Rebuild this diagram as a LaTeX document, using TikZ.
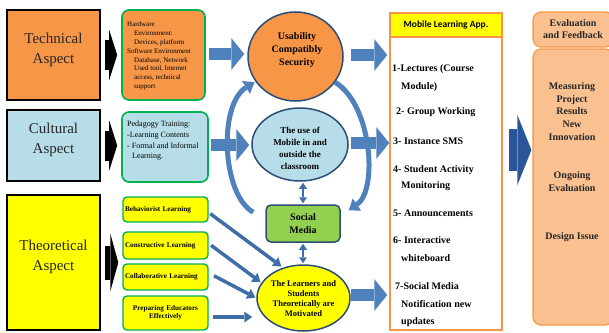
\documentclass[tikz,border=0pt]{standalone}
\usepackage{fontspec}
\setmainfont{Liberation Serif}
\newfontfamily\calib{Carlito}
\usetikzlibrary{arrows.meta,calc,shapes.geometric}
\definecolor{orng}{HTML}{F79646}
\definecolor{lblue}{HTML}{B7DEE8}
\definecolor{ylw}{HTML}{FFFF00}
\definecolor{grn}{HTML}{00B050}
\definecolor{smgrn}{HTML}{92D050}
\definecolor{dkblue}{HTML}{2C4D75}
\definecolor{arrblue}{HTML}{4F81BD}
\definecolor{thinblue}{HTML}{3F6DA8}
\definecolor{bigblue}{HTML}{2A5699}
\definecolor{lorng}{HTML}{FAC090}
\begin{document}
\begin{tikzpicture}[x=1pt,y=-1pt,
  bigbox/.style={draw=black, line width=1.6pt, minimum width=93pt, inner sep=0},
  bigtxt/.style={font=\fontsize{15}{20}\selectfont, align=center, text=black!85, inner sep=0},
  gbox/.style={rounded corners=7pt, draw=grn, line width=1.6pt, inner sep=0},
  ybox/.style={rounded corners=4pt, draw=grn, line width=1.4pt, fill=ylw, minimum width=85pt,
     font=\bfseries\fontsize{7.2}{8}\selectfont, inner xsep=2pt},
  circ/.style={ellipse, draw=dkblue, line width=1.5pt, inner sep=0},
  btxt/.style={font=\bfseries\fontsize{10}{13}\selectfont, align=center, inner sep=0},
  itm/.style={anchor=west, inner sep=0, font=\bfseries\fontsize{10}{12}\selectfont, text height=7pt, text depth=2pt},
  rtxt/.style={font=\bfseries\fontsize{10}{12.75}\selectfont, align=center, inner sep=0, text=black!85},
  barrow/.style={draw=arrblue, line width=12pt, -{Triangle[length=13pt,width=32pt,line width=0pt]}},
  karrow/.style={draw=black, line width=30pt, -{Triangle[length=8pt,width=50pt,line width=0pt]}, shorten <=4pt, shorten >=4pt},
  tarrow/.style={draw=thinblue, line width=3.5pt, -{Triangle[length=8pt,width=11pt,line width=0pt]}},
  darrow/.style={draw=thinblue, line width=2.5pt, {Triangle[length=6pt,width=8pt,line width=0pt]}-{Triangle[length=6pt,width=8pt,line width=0pt]}},
  carrow/.style={draw=arrblue, line width=5pt, -{Triangle[length=10pt,width=15pt,line width=0pt]}}
]
\useasboundingbox (0,0) rectangle (609,332);

% left column
\node[bigbox, fill=orng, minimum height=90pt] (tech) at (53.5,55) {};
\node[bigtxt] (techT) at (53.5,50) {Technical\\Aspect};
\node[bigbox, fill=lblue, minimum height=71pt] (cult) at (53.5,145.5) {};
\node[bigtxt] (cultT) at (53.5,139.5) {Cultural\\Aspect};
\node[bigbox, fill=ylw, minimum height=135pt] (theo) at (53.5,262.5) {};
\node[bigtxt] (theoT) at (53.5,257) {Theoretical\\Aspect};

% second column
\node[gbox, fill=orng, minimum width=83pt, minimum height=90pt] (hw) at (163.5,55) {};
\node[anchor=west, align=left, inner sep=0, font=\fontsize{7}{8.8}\selectfont] (hwT) at (127,56)
 {Hardware\\\hspace*{7pt}Environment:\\\hspace*{7pt}Devices, platform\\Software Environment\\\hspace*{7pt}Database, Network\\\hspace*{7pt}Used tool, Internet\\\hspace*{7pt}access, technical\\\hspace*{7pt}support};
\node[gbox, fill=lblue, minimum width=86pt, minimum height=70pt] (ped) at (165,147) {};
\node[anchor=west, align=left, inner sep=0, font=\fontsize{8}{10.7}\selectfont] (pedT) at (127,141)
 {Pedagogy Training:\\-Learning Contents\\- Formal and Informal\\\hspace*{5pt}Learning.};
\node[ybox, minimum height=25pt, text width=81pt, align=left] (beh) at (165.5,209.5) {Behaviorist Learning};
\node[ybox, minimum height=27pt, text width=81pt, align=left] (cons) at (165.5,245.5) {Constructive Learning};
\node[ybox, minimum height=26pt, text width=81pt, align=left] (coll) at (165.5,277) {Collaborative Learning};
\node[ybox, minimum height=34pt, text width=81pt, align=center] (prep) at (165.5,313) {Preparing Educators\\Effectively};

% middle column
\node[circ, fill=orng, minimum width=95pt, minimum height=89pt] (usa) at (295.5,56.5) {};
\node[btxt] (usaT) at (297,50) {Usability\\Compatibly\\Security};
\node[circ, fill=lblue, minimum width=96pt, minimum height=73pt] (ell) at (300,144.5) {};
\node[btxt, font=\bfseries\fontsize{9}{12}\selectfont] (ellT) at (300,148) {The use of\\Mobile in and\\outside the\\classroom};
\node[draw=dkblue, line width=1.5pt, fill=smgrn, rounded corners=5pt, minimum width=74pt, minimum height=37pt,
  btxt] (soc) at (303,223.5) {Social\\Media};
\node[circ, fill=ylw, minimum width=93pt, minimum height=66pt] (yel) at (303.5,298) {};
\node[btxt, font=\bfseries\fontsize{8.5}{10}\selectfont] (yelT) at (303.5,298.5) {The Learners and\\Students\\Theoretically are\\Motivated};

% app column
\node[draw=orng, line width=1.5pt, fill=white, minimum width=112pt, minimum height=317pt, inner sep=0] (app) at (446,171.5) {};
\node[draw=orng, line width=1.5pt, fill=ylw, minimum width=112pt, minimum height=24pt, inner sep=0,
  font=\calib\bfseries\fontsize{9.5}{11}\selectfont] (apph) at (446,25) {Mobile Learning App.};
\node[itm] (i1a) at (392,69) {1-Lectures (Course};
\node[itm] (i1b) at (401,87) {Module)};
\node[itm] (i2) at (396,112) {2- Group Working};
\node[itm] (i3) at (393,142) {3- Instance SMS};
\node[itm] (i4a) at (393,170) {4- Student Activity};
\node[itm] (i4b) at (401,186) {Monitoring};
\node[itm] (i5) at (393,214) {5- Announcements};
\node[itm] (i6a) at (393,241) {6- Interactive};
\node[itm] (i6b) at (401,259) {whiteboard};
\node[itm] (i7a) at (395,287) {7-Social Media};
\node[itm] (i7b) at (401,305) {Notification new};
\node[itm] (i7c) at (401,322) {updates};

% right column
\node[draw=orng, line width=1.2pt, fill=lorng, rounded corners=8pt, minimum width=80pt, minimum height=35pt, rtxt,
  font=\bfseries\fontsize{10}{12}\selectfont] (eval) at (573,29.5) {Evaluation\\and Feedback};
\node[draw=orng, line width=1.2pt, fill=lorng, rounded corners=8pt, minimum width=80pt, minimum height=276pt, inner sep=0] (big) at (573,187) {};
\node[rtxt] (m1) at (572,111.5) {Measuring\\Project\\Results\\New\\Innovation};
\node[rtxt, font=\bfseries\fontsize{10}{13}\selectfont] (m2) at (572,181.5) {Ongoing\\Evaluation};
\node[rtxt] (m3) at (572,237) {Design Issue};

% black arrows
\draw[karrow] (tech.east) -- (tech.east -| hw.west);
\draw[karrow] (cult.east) -- (cult.east -| ped.west);
\draw[karrow, line width=34pt, -{Triangle[length=8pt,width=58pt,line width=0pt]}] (theo.east) -- (theo.east -| beh.west);

% blue block arrows
\draw[barrow, shorten <=3pt, shorten >=3pt] ([yshift=1pt]hw.east) -- ([yshift=1pt]hw.east -| usa.west);
\draw[barrow, shorten <=7pt, shorten >=2pt] ([yshift=1.5pt]usa.east) -- ([yshift=1.5pt]usa.east -| app.west);
\draw[barrow, shorten <=2pt, shorten >=2pt] ([yshift=2pt]ped.east) -- ([yshift=2pt]ped.east -| ell.west);
\draw[barrow, shorten <=2pt, shorten >=0pt] ([yshift=1.5pt]ell.east) -- ([yshift=1.5pt]ell.east -| app.west);
\draw[barrow, shorten <=0pt, shorten >=2pt] ([yshift=3pt]yel.east) -- ([yshift=3pt]yel.east -| app.west);
\draw[draw=bigblue, line width=42pt, -{Triangle[length=14pt,width=70pt,line width=0pt]}, shorten <=6pt, shorten >=1pt]
  ([yshift=21.5pt]app.east) -- ([yshift=21.5pt]app.east -| big.west);

% thin arrows to yellow ellipse
\draw[tarrow, shorten <=2pt, shorten >=2pt] ([yshift=-3pt]beh.east) -- (yel.124);
\draw[tarrow, shorten <=3pt, shorten >=1pt] ([yshift=2pt]cons.east) -- (yel.160);
\draw[tarrow, shorten <=6pt, shorten >=1pt] ([yshift=4pt]coll.east) -- (yel.west);
\draw[tarrow, shorten <=4pt, shorten >=4pt] ([yshift=-4pt]prep.east) -- ([yshift=-4pt]prep.east -| yel.west);

% double arrows
\draw[darrow, shorten <=1pt, shorten >=1pt] (soc.north |- ell.south) -- (soc.north);
\draw[darrow, shorten <=1pt, shorten >=1pt] (soc.south) -- (soc.south |- yel.north);

% curved arrows
\draw[carrow, shorten >=1pt] ([xshift=-12pt,yshift=-8pt]soc.north west) .. controls (222,195) and (218,105) .. (usa.212);
\draw[carrow] (usa.-33) .. controls (372,105) and (378,190) .. ([xshift=8pt,yshift=-6pt]soc.north east);
\end{tikzpicture}
\end{document}
